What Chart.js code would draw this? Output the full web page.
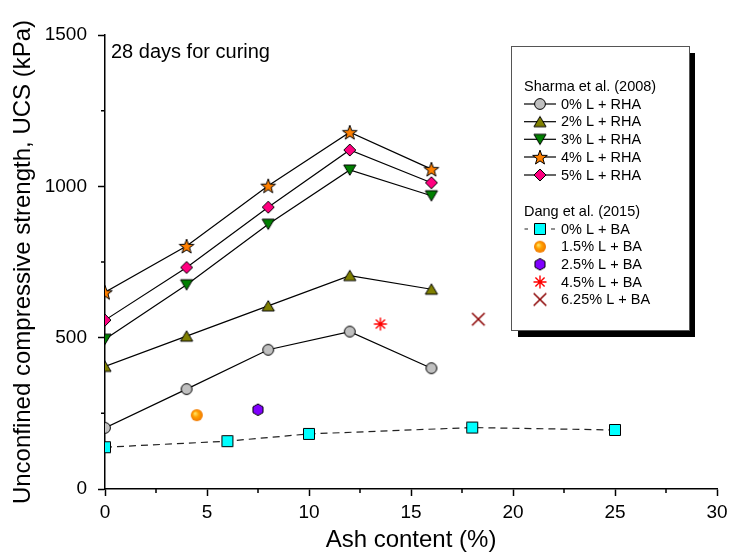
<!DOCTYPE html>
<html><head><meta charset="utf-8">
<script src="https://cdn.jsdelivr.net/npm/chart.js@4.4.1/dist/chart.umd.min.js"></script>
<style>html,body{margin:0;padding:0;background:#fff}#wrap{width:729px;height:556px;position:relative}</style>
</head><body><div id="wrap"><canvas id="c" width="729" height="556"></canvas></div>
<script>
// ---- data ----
const ashRHA = [0, 4, 8, 12, 16];
const rha0 = [202, 330, 460, 520, 399];
const rha2 = [405, 505, 605, 705, 660];
const rha3 = [495, 675, 875, 1054, 969];
const rha4 = [650, 803, 1002, 1179, 1057];
const rha5 = [558, 732, 931, 1120, 1012];
const ashBA0 = [0, 6, 10, 18, 25];
const ba0 = [138, 158, 182, 203, 195];
const ashBA15 = [4.5];  const ba15 = [244];
const ashBA25 = [7.5];  const ba25 = [262];
const ashBA45 = [13.5]; const ba45 = [545];
const ashBA625 = [18.3]; const ba625 = [561];
const xTicks = [0, 5, 10, 15, 20, 25, 30];
const yTicks = [0, 500, 1000, 1500];
const group1 = 'Sharma et al. (2008)';
const group2 = 'Dang et al. (2015)';
const names1 = ['0% L + RHA', '2% L + RHA', '3% L + RHA', '4% L + RHA', '5% L + RHA'];
const names2 = ['0% L + BA', '1.5% L + BA', '2.5% L + BA', '4.5% L + BA', '6.25% L + BA'];
const noteText = '28 days for curing';
const xTitle = 'Ash content (%)';
const yTitle = 'Unconfined compressive strength, UCS (kPa)';

const FONT = '"Liberation Sans", Arial, Helvetica, sans-serif';

// ---- marker images ----
function mk(kind) {
  const S = 20, c = document.createElement('canvas');
  c.width = S; c.height = S;
  const g = c.getContext('2d');
  const cx = S / 2, cy = S / 2;
  g.lineWidth = 1; g.strokeStyle = '#000'; g.lineJoin = 'miter';
  g.beginPath();
  if (kind === 'circle') {
    g.arc(cx, cy, 5.4, 0, Math.PI * 2); g.fillStyle = '#c0c0c0'; g.fill(); g.stroke();
  } else if (kind === 'triUp' || kind === 'triDown') {
    const s = kind === 'triUp' ? 1 : -1;
    g.moveTo(cx, cy - 5.3 * s); g.lineTo(cx + 6.1, cy + 5 * s); g.lineTo(cx - 6.1, cy + 5 * s); g.closePath();
    g.fillStyle = kind === 'triUp' ? '#808000' : '#008000'; g.fill(); g.stroke();
  } else if (kind === 'star') {
    const R = 7.7, r = 3.1;
    for (let i = 0; i < 10; i++) {
      const a = -Math.PI / 2 + i * Math.PI / 5, rr = i % 2 ? r : R;
      const px = cx + rr * Math.cos(a), py = cy + 0.8 + rr * Math.sin(a);
      i ? g.lineTo(px, py) : g.moveTo(px, py);
    }
    g.closePath(); g.fillStyle = '#ff8000'; g.fill(); g.stroke();
  } else if (kind === 'diamond') {
    g.moveTo(cx, cy - 6); g.lineTo(cx + 6, cy); g.lineTo(cx, cy + 6); g.lineTo(cx - 6, cy); g.closePath();
    g.fillStyle = '#ff0080'; g.fill(); g.stroke();
  } else if (kind === 'square') {
    g.rect(cx - 5.5, cy - 5.5, 11, 11); g.fillStyle = '#00ffff'; g.fill(); g.stroke();
  } else if (kind === 'sphere') {
    const gr = g.createRadialGradient(cx - 1.8, cy - 1.8, 0.5, cx, cy, 6);
    gr.addColorStop(0, '#ffe060'); gr.addColorStop(0.45, '#ffa000'); gr.addColorStop(1, '#f07800');
    g.arc(cx, cy, 6, 0, Math.PI * 2); g.fillStyle = gr; g.fill();
  } else if (kind === 'hex') {
    for (let i = 0; i < 6; i++) {
      const a = -Math.PI / 2 + i * Math.PI / 3;
      const px = cx + 5.8 * Math.cos(a), py = cy + 5.8 * Math.sin(a);
      i ? g.lineTo(px, py) : g.moveTo(px, py);
    }
    g.closePath(); g.fillStyle = '#8000ff'; g.fill(); g.stroke();
  } else if (kind === 'aster') {
    g.strokeStyle = '#ff0000'; g.lineWidth = 1.4;
    for (let i = 0; i < 4; i++) {
      const a = i * Math.PI / 4;
      g.moveTo(cx - 6.5 * Math.cos(a), cy - 6.5 * Math.sin(a));
      g.lineTo(cx + 6.5 * Math.cos(a), cy + 6.5 * Math.sin(a));
    }
    g.stroke();
  } else if (kind === 'x') {
    g.strokeStyle = '#8b0000'; g.lineWidth = 1.5;
    g.moveTo(cx - 6.3, cy - 6.3); g.lineTo(cx + 6.3, cy + 6.3);
    g.moveTo(cx + 6.3, cy - 6.3); g.lineTo(cx - 6.3, cy + 6.3);
    g.stroke();
  }
  return c;
}
const M = {
  circle: mk('circle'), triUp: mk('triUp'), triDown: mk('triDown'), star: mk('star'),
  diamond: mk('diamond'), square: mk('square'), sphere: mk('sphere'), hex: mk('hex'),
  aster: mk('aster'), x: mk('x')
};

const pts = (xs, ys) => xs.map((x, i) => ({ x: x, y: ys[i] }));
function ds(label, xs, ys, marker, line, dash) {
  return {
    label: label, data: pts(xs, ys), showLine: !!line,
    borderColor: dash ? '#222' : '#000', borderWidth: 1.2, borderDash: dash || [],
    pointStyle: marker, pointRadius: 6, pointHoverRadius: 6,
    backgroundColor: 'transparent', clip: 0
  };
}
const datasets = [
  ds(names1[0], ashRHA, rha0, M.circle, true),
  ds(names1[1], ashRHA, rha2, M.triUp, true),
  ds(names1[2], ashRHA, rha3, M.triDown, true),
  ds(names1[3], ashRHA, rha4, M.star, true),
  ds(names1[4], ashRHA, rha5, M.diamond, true),
  ds(names2[0], ashBA0, ba0, M.square, true, [7, 5]),
  ds(names2[1], ashBA15, ba15, M.sphere, false),
  ds(names2[2], ashBA25, ba25, M.hex, false),
  ds(names2[3], ashBA45, ba45, M.aster, false),
  ds(names2[4], ashBA625, ba625, M.x, false)
];

// minor ticks + note + legend
const extras = {
  id: 'extras',
  afterDraw(chart) {
    const ctx = chart.ctx, xs = chart.scales.x, ys = chart.scales.y, ca = chart.chartArea;
    ctx.save();
    ctx.strokeStyle = '#000'; ctx.lineWidth = 1.5;
    ctx.beginPath();
    for (let v = 2.5; v < 30; v += 5) { const p = xs.getPixelForValue(v); ctx.moveTo(p, ca.bottom); ctx.lineTo(p, ca.bottom + 4); }
    for (let v = 250; v < 1500; v += 500) { const p = ys.getPixelForValue(v); ctx.moveTo(ca.left, p); ctx.lineTo(ca.left - 4, p); }
    ctx.stroke();
    // note
    ctx.fillStyle = '#000'; ctx.font = '20px ' + FONT; ctx.textBaseline = 'alphabetic'; ctx.textAlign = 'left';
    ctx.fillText(noteText, 111, 58);
    // legend box
    ctx.fillStyle = '#000';
    ctx.fillRect(689, 53, 6, 284);
    ctx.fillRect(518, 331, 177, 6);
    ctx.fillStyle = '#fff';
    ctx.fillRect(511.5, 46.5, 178, 284);
    ctx.strokeStyle = '#555'; ctx.lineWidth = 1;
    ctx.strokeRect(511.5, 46.5, 178, 284);
    ctx.fillStyle = '#000'; ctx.font = '14.5px ' + FONT; ctx.textBaseline = 'middle';
    ctx.fillText(group1, 524, 87);
    const m1 = [M.circle, M.triUp, M.triDown, M.star, M.diamond];
    const r1 = [104, 121.7, 139.3, 157, 175];
    for (let i = 0; i < 5; i++) {
      const y = r1[i];
      ctx.strokeStyle = '#000'; ctx.lineWidth = 1.2; ctx.beginPath(); ctx.moveTo(524, y); ctx.lineTo(556, y); ctx.stroke();
      ctx.drawImage(m1[i], 540 - 10, y - 10);
      ctx.fillStyle = '#000'; ctx.fillText(names1[i], 561, y + 0.5);
    }
    ctx.fillText(group2, 524, 212);
    const m2 = [M.square, M.sphere, M.hex, M.aster, M.x];
    const r2 = [229, 246.7, 264.3, 282, 299.5];
    for (let i = 0; i < 5; i++) {
      const y = r2[i];
      if (i === 0) {
        ctx.strokeStyle = '#222'; ctx.lineWidth = 1.2; ctx.beginPath();
        ctx.moveTo(524.5, y); ctx.lineTo(528, y); ctx.moveTo(551, y); ctx.lineTo(555, y); ctx.stroke();
      }
      ctx.drawImage(m2[i], 540 - 10, y - 10);
      ctx.fillStyle = '#000'; ctx.fillText(names2[i], 561, y + 0.5);
    }
    ctx.restore();
  }
};

new Chart(document.getElementById('c'), {
  type: 'scatter',
  data: { datasets: datasets },
  options: {
    responsive: false, animation: false, devicePixelRatio: 1,
    layout: { padding: { top: 35, right: 12, left: 0, bottom: 0 } },
    plugins: { legend: { display: false }, tooltip: { enabled: false } },
    scales: {
      x: {
        type: 'linear', min: 0, max: 30,
        afterFit(s) { s.height = 67; s.paddingRight = 0; s.paddingLeft = 0; },
        afterBuildTicks(s) { s.ticks = xTicks.map(v => ({ value: v })); },
        ticks: { color: '#000', font: { family: FONT, size: 19 }, padding: 5, maxRotation: 0, autoSkip: false, callback: v => String(v) },
        grid: { display: true, drawOnChartArea: false, drawTicks: true, tickLength: 7, tickColor: '#000', tickWidth: 1.5 },
        border: { display: true, color: '#000', width: 1.5 },
        title: { display: true, text: xTitle, color: '#000', font: { family: FONT, size: 24 }, padding: { top: 0, bottom: 1 } }
      },
      y: {
        type: 'linear', min: 0, max: 1500,
        afterFit(s) { s.width = 105; s.paddingTop = 0; s.paddingBottom = 0; },
        afterBuildTicks(s) { s.ticks = yTicks.map(v => ({ value: v })); },
        ticks: { color: '#000', font: { family: FONT, size: 19 }, padding: 11, autoSkip: false, callback: v => String(v) },
        grid: { display: true, drawOnChartArea: false, drawTicks: true, tickLength: 7, tickColor: '#000', tickWidth: 1.5 },
        border: { display: true, color: '#000', width: 1.5 },
        title: { display: true, text: yTitle, color: '#000', font: { family: FONT, size: 24 }, padding: { top: 9, bottom: 0 } }
      }
    }
  },
  plugins: [extras]
});
</script>
</body></html>
